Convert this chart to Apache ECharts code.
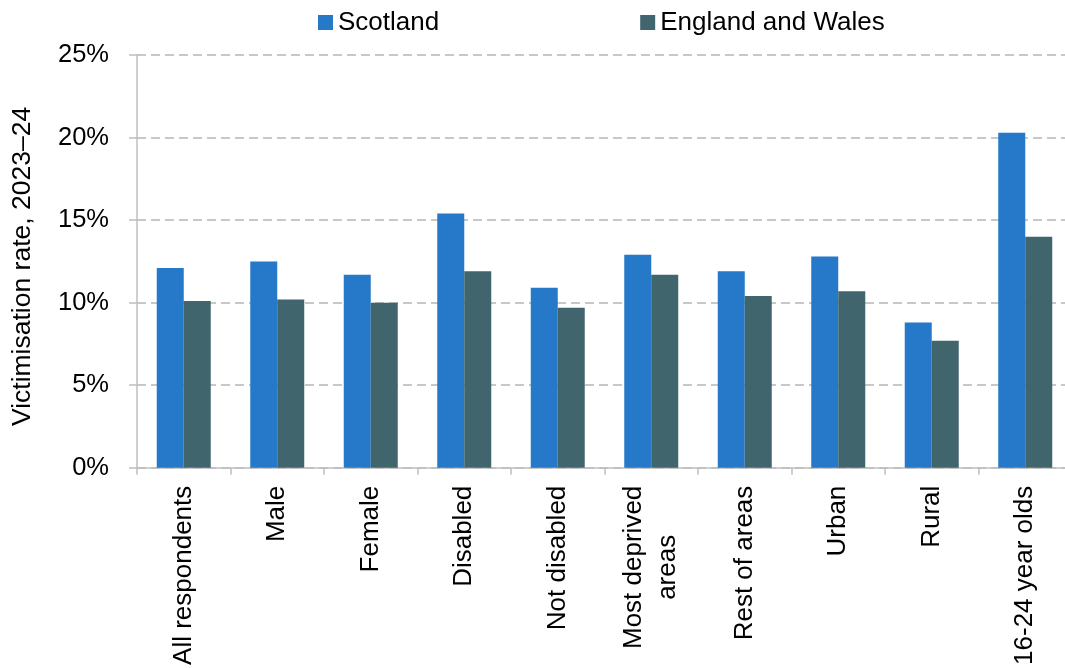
<!DOCTYPE html>
<html>
<head>
<meta charset="utf-8">
<script src="https://cdn.jsdelivr.net/npm/echarts@6/dist/echarts.min.js"></script>
<style>
  html, body { margin: 0; padding: 0; background: #fff; }
  #chart { width: 1065px; height: 668px; }
</style>
</head>
<body>
<div id="chart"></div>
<script>
// Victimisation rates by respondent group, 2023–24
const categories = [
  'All respondents', 'Male', 'Female', 'Disabled', 'Not disabled',
  'Most deprived\nareas', 'Rest of areas', 'Urban', 'Rural', '16-24 year olds'
];
const scotland = [12.1, 12.5, 11.7, 15.4, 10.9, 12.9, 11.9, 12.8, 8.8, 20.3];
const englandWales = [10.1, 10.2, 10.0, 11.9, 9.7, 11.7, 10.4, 10.7, 7.7, 14.0];
const seriesNames = ['Scotland', 'England and Wales'];
const yTicks = { min: 0, max: 25, interval: 5 };

const FONT = '"Liberation Sans", Arial, sans-serif';
const GREY = '#bfbfbf';
const FS = 26;

const chart = echarts.init(document.getElementById('chart'));
chart.setOption({
  animation: false,
  textStyle: { fontFamily: FONT, color: '#000' },
  legend: {
    top: 9.5,
    left: 318,
    padding: 0,
    itemWidth: 15,
    itemHeight: 15,
    itemGap: 201,
    icon: 'rect',
    textStyle: { fontFamily: FONT, fontSize: FS, color: '#000' },
    data: seriesNames
  },
  grid: { left: 137, top: 55.2, height: 412.5, width: 935, outerBoundsMode: 'none' },
  xAxis: {
    type: 'category',
    data: categories,
    axisLine: { lineStyle: { color: GREY, width: 1.5 } },
    axisTick: { show: true, length: 7, lineStyle: { color: GREY, width: 1.5 } },
    axisLabel: {
      rotate: 90,
      interval: 0,
      margin: 18,
      color: '#000',
      align: 'right',
      // each line of a wrapped label is centred within the label block
      formatter: v => v.split('\n').map(s => '{c|' + s + '}').join('\n'),
      rich: {
        c: { fontFamily: FONT, fontSize: FS, lineHeight: 34, align: 'center', color: '#000' }
      }
    }
  },
  yAxis: {
    type: 'value',
    min: yTicks.min,
    max: yTicks.max,
    interval: yTicks.interval,
    name: 'Victimisation rate, 2023–24',
    nameLocation: 'middle',
    nameGap: 101,
    nameTextStyle: { fontFamily: FONT, fontSize: 26.5, color: '#000', padding: [0, 10, 0, 0] },
    axisLine: { show: true, lineStyle: { color: GREY, width: 1.5 } },
    axisTick: { show: true, length: 8, lineStyle: { color: GREY, width: 1.5 } },
    axisLabel: {
      formatter: '{value}%',
      margin: 28,
      fontFamily: FONT,
      fontSize: 25.5,
      color: '#000'
    },
    splitLine: {
      show: true,
      lineStyle: { color: '#c8c8c8', width: 2, type: [9, 5] }
    }
  },
  series: [
    {
      name: seriesNames[0],
      type: 'bar',
      data: scotland,
      barWidth: 27,
      barGap: '0%',
      itemStyle: { color: '#2678C8' }
    },
    {
      name: seriesNames[1],
      type: 'bar',
      data: englandWales,
      barWidth: 27,
      barGap: '0%',
      itemStyle: { color: '#41656D' }
    }
  ]
});
</script>
</body>
</html>
